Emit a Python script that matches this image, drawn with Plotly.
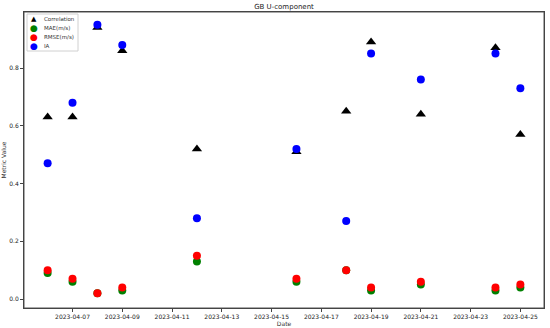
import plotly.graph_objects as go

dates = ["2023-04-06", "2023-04-07", "2023-04-08", "2023-04-09", "2023-04-12",
         "2023-04-16", "2023-04-18", "2023-04-19", "2023-04-21", "2023-04-24", "2023-04-25"]
correlation = [0.63, 0.63, 0.94, 0.86, 0.52, 0.51, 0.65, 0.89, 0.64, 0.87, 0.57]
mae = [0.09, 0.06, 0.02, 0.03, 0.13, 0.06, 0.10, 0.03, 0.05, 0.03, 0.04]
rmse = [0.10, 0.07, 0.02, 0.04, 0.15, 0.07, 0.10, 0.04, 0.06, 0.04, 0.05]
ia = [0.47, 0.68, 0.95, 0.88, 0.28, 0.52, 0.27, 0.85, 0.76, 0.85, 0.73]

series_names = ["Correlation", "MAE(m/s)", "RMSE(m/s)", "IA"]
series_colors = ["black", "green", "red", "blue"]
series_symbols = ["triangle-up", "circle", "circle", "circle"]
legend_glyphs = ["▲", "●", "●", "●"]

xtick_vals = ["2023-04-07", "2023-04-09", "2023-04-11", "2023-04-13", "2023-04-15",
              "2023-04-17", "2023-04-19", "2023-04-21", "2023-04-23", "2023-04-25"]
ytick_vals = [0.0, 0.2, 0.4, 0.6, 0.8]

W, H = 550, 328
ML, MR, MT, MB = 24, 6, 12, 20
PW, PH = W - ML - MR, H - MT - MB


def px_x(px):
    return (px - ML) / PW


def px_y(py):
    return (H - MB - py) / PH


fig = go.Figure()
for name, vals, color, sym in zip(series_names, [correlation, mae, rmse, ia],
                                  series_colors, series_symbols):
    fig.add_trace(go.Scatter(x=dates, y=vals, mode="markers", name=name,
                             marker=dict(symbol=sym, color=color, size=8 if sym == "circle" else 9),
                             showlegend=False))

axis_common = dict(showgrid=False, zeroline=False, showline=True, linecolor="#444",
                   linewidth=1, mirror=True, ticks="outside", ticklen=3,
                   tickcolor="#444", tickfont=dict(size=6, color="#222"), automargin=False)

shapes = [
    # plot frame
    dict(type="rect", xref="paper", yref="paper", x0=0, x1=1, y0=0, y1=1,
         line=dict(color="#555", width=1), fillcolor="rgba(0,0,0,0)", layer="below"),
    # manual compact legend box (matplotlib style)
    dict(type="rect", xref="paper", yref="paper",
         x0=px_x(27), x1=px_x(78), y0=px_y(51), y1=px_y(14),
         line=dict(color="#d0d0d0", width=1), fillcolor="rgba(255,255,255,0.8)",
         layer="above"),
]
annotations = []
for i, (name, color, glyph) in enumerate(zip(series_names, series_colors, legend_glyphs)):
    yy = px_y(19.5 + i * 8.7)
    annotations.append(dict(xref="paper", yref="paper", x=px_x(34), y=yy,
                            text=glyph, showarrow=False, xanchor="center", yanchor="middle",
                            font=dict(size=9 if glyph == "●" else 7, color=color)))
    annotations.append(dict(xref="paper", yref="paper", x=px_x(42), y=yy,
                            text=name, showarrow=False, xanchor="left", yanchor="middle",
                            font=dict(size=5.5, color="#333")))

fig.update_layout(
    width=W, height=H,
    margin=dict(l=ML, r=MR, t=MT, b=MB, autoexpand=False),
    paper_bgcolor="white", plot_bgcolor="white",
    font=dict(family="DejaVu Sans", size=6, color="#333"),
    title=dict(text="GB U-component", x=(ML + PW / 2) / W, xanchor="center",
               y=1 - 6.5 / H, yanchor="middle", font=dict(size=7, color="#222")),
    showlegend=False,
    shapes=shapes,
    annotations=annotations,
    xaxis=dict(axis_common, type="date",
               range=["2023-04-05 01:12", "2023-04-25 22:48"],
               tickvals=xtick_vals, ticktext=xtick_vals,
               title=dict(text="Date", font=dict(size=6), standoff=1)),
    yaxis=dict(axis_common, range=[-0.031, 0.994], tickvals=ytick_vals,
               ticktext=["0.0", "0.2", "0.4", "0.6", "0.8"],
               title=dict(text="Metric Value", font=dict(size=6), standoff=3)),
)

fig.write_html("out.html", config={"displayModeBar": False},
               post_script="document.body.style.margin='0';document.body.style.overflow='hidden';")
